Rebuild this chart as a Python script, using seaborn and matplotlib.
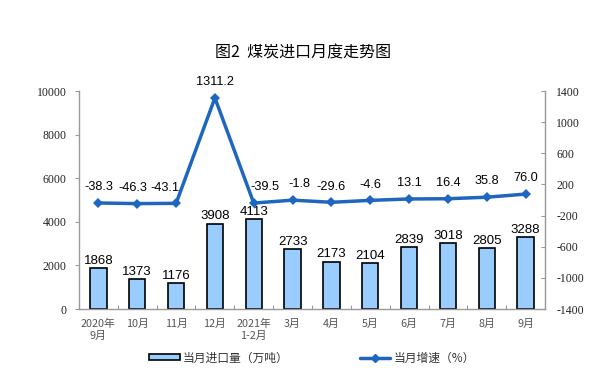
import matplotlib
matplotlib.use("Agg")
import matplotlib.pyplot as plt
import seaborn as sns
import numpy as np
import pandas as pd
from matplotlib.patches import Patch
from matplotlib.lines import Line2D

categories = ["2020年\n9月", "10月", "11月", "12月", "2021年\n1-2月", "3月", "4月",
              "5月", "6月", "7月", "8月", "9月"]
import_volume = [1868, 1373, 1176, 3908, 4113, 2733, 2173, 2104, 2839, 3018, 2805, 3288]
growth_rate = [-38.3, -46.3, -43.1, 1311.2, -39.5, -1.8, -29.6, -4.6, 13.1, 16.4, 35.8, 76.0]
left_ticks = [0, 2000, 4000, 6000, 8000, 10000]
right_ticks = [-1400, -1000, -600, -200, 200, 600, 1000, 1400]

sns.set_theme(style="white")
plt.rcParams['font.family'] = ['Noto Sans CJK SC', 'DejaVu Sans']

df = pd.DataFrame({"cat": categories, "vol": import_volume, "rate": growth_rate})

fig = plt.figure(figsize=(6.06, 3.72), dpi=100)
ax = fig.add_axes([79/606, 1-309/372, (545-79)/606, (309-91)/372])

sns.barplot(data=df, x="cat", y="vol", ax=ax, color="#99CCFF", width=0.42,
            edgecolor="black", linewidth=1.2, saturation=1)
ax.set_ylim(0, 10000)
ax.set_xlim(-0.5, len(categories) - 0.5)
ax.set_xlabel("")
ax.set_ylabel("")
ax.set_yticks(left_ticks)
ax.set_yticklabels([str(t) for t in left_ticks], family="Liberation Serif", fontsize=8.5, color="#222222")
ax.set_xticks(range(len(categories)))
ax.set_xticklabels(categories, fontsize=7.8, color="#555555", linespacing=1.3)
ax.tick_params(axis="x", length=0, pad=7)
ax.tick_params(axis="y", length=3, width=0.8, color="#999999", direction="out", pad=6, left=True)
ax.set_xticks(np.arange(-0.5, len(categories), 1), minor=True)
ax.tick_params(axis="x", which="minor", length=3, direction="in", color="#999999", width=0.8, bottom=True)

for i, v in enumerate(import_volume):
    ax.text(i, v + 60, str(v), ha="center", va="bottom", fontsize=9.5,
            family="Liberation Sans", color="black")

for s in ["top", "right"]:
    ax.spines[s].set_visible(False)
for s in ["left", "bottom"]:
    ax.spines[s].set_color("#999999")
    ax.spines[s].set_linewidth(1.0)

ax2 = ax.twinx()
sns.lineplot(x=np.arange(len(categories)), y=growth_rate, ax=ax2, color="#1F66C1",
             linewidth=2.5, marker="D", markersize=5.5, markeredgewidth=0)
ax2.set_ylim(-1400, 1400)
ax2.set_yticks(right_ticks)
ax2.set_yticklabels([str(t) for t in right_ticks], family="Liberation Serif", fontsize=8.5, color="#222222")
ax2.tick_params(axis="y", length=3, width=0.8, color="#999999", direction="in", pad=8, right=True)
for s in ["top", "left", "bottom"]:
    ax2.spines[s].set_visible(False)
ax2.spines["right"].set_color("#999999")
ax2.spines["right"].set_linewidth(1.0)
ax2.set_ylabel("")

label_dx = {1: -3, 2: -8, 4: 8, 5: 5}
for i, v in enumerate(growth_rate):
    ax2.annotate(f"{v:.1f}", (i, v), xytext=(label_dx.get(i, 0), 7), textcoords="offset points",
                 ha="center", va="bottom", fontsize=9.2, family="Liberation Sans",
                 color="black", zorder=5)

fig.text(0.5, 1 - 53/372, "图2  煤炭进口月度走势图", ha="center", va="center",
         fontsize=11.5, color="black")

handles = [Patch(facecolor="#99CCFF", edgecolor="black", linewidth=1.2),
           Line2D([0], [0], color="#1F66C1", linewidth=2.5, marker="D", markersize=4.5)]
leg = fig.legend(handles, ["当月进口量（万吨）", "当月增速（%）"], loc="center",
                 bbox_to_anchor=(0.515, 1 - 358/372), ncol=2, frameon=False,
                 fontsize=8.5, handlelength=2.6, handleheight=0.45, handletextpad=0.3,
                 columnspacing=6.0)
for t in leg.get_texts():
    t.set_color("#333333")

fig.savefig("out.png", dpi=100)
